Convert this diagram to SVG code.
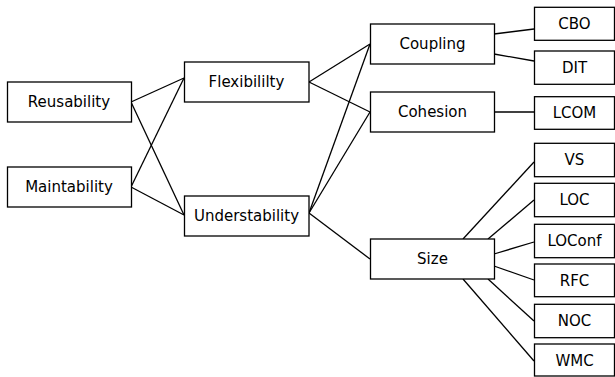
<svg xmlns="http://www.w3.org/2000/svg" width="615" height="377" viewBox="0 0 615 377">
<style>
rect.box{fill:#fff;stroke:#000;stroke-width:1.3}
text{font-family:"DejaVu Sans",sans-serif;font-size:15px;fill:#000;text-anchor:middle;dominant-baseline:central}
text.s{font-size:15px}
#connectors line{stroke:#000;stroke-width:1.3}
</style>
<rect width="615" height="377" fill="#fff"/>
<g id="connectors">
<line x1="131" y1="102" x2="184" y2="78"/>
<line x1="131" y1="102" x2="184" y2="215"/>
<line x1="131" y1="187" x2="184" y2="78"/>
<line x1="131" y1="187" x2="184" y2="215"/>
<line x1="309" y1="82" x2="370" y2="44"/>
<line x1="309" y1="82" x2="370" y2="112"/>
<line x1="309" y1="213" x2="370" y2="44"/>
<line x1="309" y1="213" x2="370" y2="112"/>
<line x1="309" y1="213" x2="370" y2="259"/>
<line x1="494" y1="34" x2="534" y2="29"/>
<line x1="494" y1="54" x2="534" y2="61"/>
<line x1="494" y1="112" x2="534" y2="112"/>
<line x1="463" y1="239" x2="534" y2="162"/>
<line x1="488" y1="239" x2="534" y2="200"/>
<line x1="494" y1="254" x2="534" y2="242"/>
<line x1="494" y1="266" x2="534" y2="280"/>
<line x1="488" y1="279" x2="534" y2="321"/>
<line x1="463" y1="279" x2="534" y2="361"/>
</g>
<g id="reusability"><rect class="box" x="7.5" y="82" width="124" height="40"/><text x="69" y="102">Reusability</text></g>
<g id="maintability"><rect class="box" x="7.5" y="167" width="124" height="40"/><text x="69" y="187">Maintability</text></g>
<g id="flexibility"><rect class="box" x="184.5" y="62" width="124.5" height="40"/><text x="246.5" y="82">Flexibililty</text></g>
<g id="understability"><rect class="box" x="184.5" y="196" width="124.5" height="40"/><text x="246.5" y="216">Understability</text></g>
<g id="coupling"><rect class="box" x="370.5" y="24" width="124" height="40"/><text x="432.5" y="44">Coupling</text></g>
<g id="cohesion"><rect class="box" x="370.5" y="92" width="124" height="40"/><text x="432.5" y="112">Cohesion</text></g>
<g id="size"><rect class="box" x="370.5" y="239" width="124" height="40"/><text x="432.5" y="259">Size</text></g>
<g id="cbo"><rect class="box" x="534.5" y="7.3" width="80" height="33"/><text x="574.5" y="24">CBO</text></g>
<g id="dit"><rect class="box" x="534.5" y="51" width="80" height="33.3"/><text x="574.5" y="68">DIT</text></g>
<g id="lcom"><rect class="box" x="534.5" y="96.7" width="80" height="32.6"/><text x="574.5" y="113">LCOM</text></g>
<g id="vs"><rect class="box" x="534.5" y="143.3" width="80" height="33.4"/><text x="574.5" y="160">VS</text></g>
<g id="loc"><rect class="box" x="534.5" y="183.3" width="80" height="33.4"/><text x="574.5" y="200">LOC</text></g>
<g id="loconf"><rect class="box" x="534.5" y="224.3" width="80" height="33.4"/><text x="574.5" y="241">LOConf</text></g>
<g id="rfc"><rect class="box" x="534.5" y="264" width="80" height="32.7"/><text x="574.5" y="280.5">RFC</text></g>
<g id="noc"><rect class="box" x="534.5" y="304.3" width="80" height="33.4"/><text x="574.5" y="321">NOC</text></g>
<g id="wmc"><rect class="box" x="534.5" y="344" width="80" height="32"/><text x="574.5" y="360.5">WMC</text></g>
</svg>
